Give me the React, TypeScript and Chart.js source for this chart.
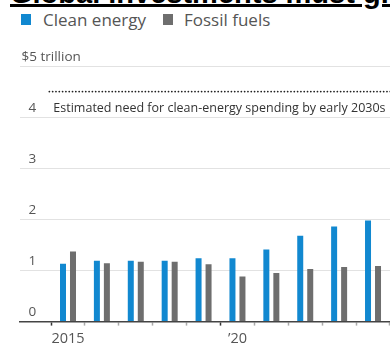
import React, { useEffect, useRef } from "react";
import { Chart, registerables } from "chart.js";

Chart.register(...registerables);

// ---- data ----
const TITLE = "Global investments must grow";
const YEARS = [2015, 2016, 2017, 2018, 2019, 2020, 2021, 2022, 2023, 2024];
const CLEAN_ENERGY = [1.13, 1.19, 1.19, 1.19, 1.24, 1.24, 1.41, 1.68, 1.86, 1.98];
const FOSSIL_FUELS = [1.37, 1.14, 1.17, 1.17, 1.12, 0.88, 0.95, 1.03, 1.07, 1.09];
const SERIES_NAMES = ["Clean energy", "Fossil fuels"];
const X_TICK_LABELS: Record<number, string> = { 2015: "2015", 2020: "\u201920" };
const Y_TOP_LABEL = "$5 trillion";
const NEED_VALUE = 4.5;
const NEED_SPAN = [2014.45, 2025.5];
const NEED_LABEL = "Estimated need for clean-energy spending by early 2030s";

const BLUE = "#1188d0";
const GRAY = "#6e6e6e";
const COLORS = [BLUE, GRAY];
const FONT = '"Open Sans", "Liberation Sans", sans-serif';

const needLabel = {
  id: "needLabel",
  afterDatasetsDraw(chart: any) {
    const { ctx, scales } = chart;
    const x = scales.x;
    const y = scales.y;
    ctx.save();
    ctx.font = `12.5px ${FONT}`;
    ctx.fillStyle = "#333";
    ctx.textBaseline = "middle";
    ctx.textAlign = "left";
    ctx.fillText(NEED_LABEL, x.getPixelForValue(NEED_SPAN[0]) + 4, y.getPixelForValue(NEED_VALUE) + 17);
    ctx.restore();
  },
};

export default function App() {
  const ref = useRef<HTMLCanvasElement | null>(null);

  useEffect(() => {
    document.body.style.margin = "0";
    const canvas = ref.current;
    if (!canvas) return;
    const chart = new Chart(canvas, {
      type: "bar",
      data: {
        datasets: [
          {
            type: "bar",
            label: SERIES_NAMES[0],
            data: YEARS.map((yr, i) => ({ x: yr, y: CLEAN_ENERGY[i] })),
            backgroundColor: BLUE,
            categoryPercentage: 0.59,
            barPercentage: 0.6,
          },
          {
            type: "bar",
            label: SERIES_NAMES[1],
            data: YEARS.map((yr, i) => ({ x: yr, y: FOSSIL_FUELS[i] })),
            backgroundColor: GRAY,
            categoryPercentage: 0.59,
            barPercentage: 0.6,
          },
          {
            type: "line",
            label: "need",
            data: NEED_SPAN.map((v) => ({ x: v, y: NEED_VALUE })),
            borderColor: "#222",
            borderWidth: 1.8,
            borderDash: [0.01, 3.3],
            borderCapStyle: "round",
            pointRadius: 0,
            fill: false,
          } as any,
        ],
      },
      options: {
        responsive: false,
        animation: false,
        layout: { padding: { left: 5, right: 0, top: 66, bottom: 0 } },
        plugins: {
          legend: { display: false },
          tooltip: { enabled: false },
        },
        scales: {
          x: {
            type: "linear",
            min: 2013.569,
            max: 2024.501,
            offset: false,
            afterBuildTicks: (scale: any) => {
              scale.ticks = YEARS.map((v) => ({ value: v }));
            },
            ticks: {
              autoSkip: false,
              maxRotation: 0,
              padding: 5,
              color: "#555",
              font: { family: FONT, size: 14.5 },
              callback: (v: any) => X_TICK_LABELS[v as number] ?? "",
            },
            grid: {
              drawOnChartArea: false,
              drawTicks: true,
              tickLength: 4,
              tickWidth: 1.5,
              tickColor: (ctx: any) => (X_TICK_LABELS[ctx.tick?.value] ? "#333" : "#aaa"),
            },
            border: { display: true, color: "#444", width: 1.5 },
          },
          y: {
            min: 0,
            max: 5,
            afterFit: (scale: any) => {
              scale.width = 14.5;
            },
            ticks: {
              stepSize: 1,
              mirror: true,
              padding: 2,
              labelOffset: -9,
              color: "#555",
              font: { family: FONT, size: 13.5 },
              callback: (v: any) => (v === 5 ? Y_TOP_LABEL : "  " + v),
            },
            grid: { color: "#e2e2e2", lineWidth: 1, drawTicks: false },
            border: { display: false },
          },
        },
      },
      plugins: [needLabel],
    });
    return () => chart.destroy();
  }, []);

  return (
    <div
      style={{
        position: "fixed",
        left: 0,
        top: 0,
        width: 390,
        height: 345,
        overflow: "hidden",
        background: "#fff",
      }}
    >
      <div
        style={{
          position: "absolute",
          left: 10,
          top: -24,
          whiteSpace: "nowrap",
          font: 'bold 29px/34px "Liberation Sans", sans-serif',
          color: "#000",
          textDecoration: "underline",
          textDecorationThickness: "2.5px",
          textUnderlineOffset: "1px",
        }}
      >
        {TITLE}
      </div>
      <div
        style={{
          position: "absolute",
          left: 0,
          top: 0,
          height: 40,
          width: 390,
          font: `17px/20px ${FONT}`,
          color: "#555",
          whiteSpace: "nowrap",
        }}
      >
        {SERIES_NAMES.map((name, i) => (
          <React.Fragment key={name}>
            <span
              style={{
                position: "absolute",
                left: i === 0 ? 21 : 163,
                top: 14,
                width: 10,
                height: 11,
                background: COLORS[i],
              }}
            />
            <span style={{ position: "absolute", left: i === 0 ? 43 : 184, top: 9.5 }}>{name}</span>
          </React.Fragment>
        ))}
      </div>
      <canvas
        ref={ref}
        width={390}
        height={353}
        style={{ position: "absolute", left: 0, top: 0, width: 390, height: 353 }}
      />
    </div>
  );
}
